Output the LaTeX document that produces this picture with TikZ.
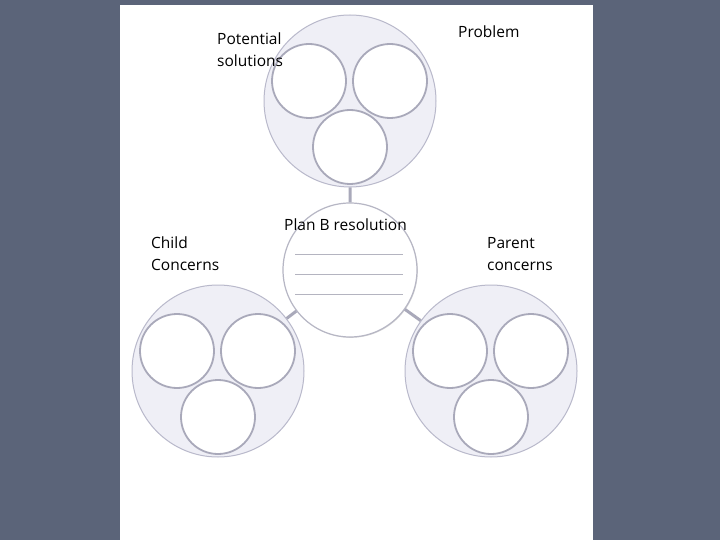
\documentclass[tikz,border=0pt]{standalone}
\usepackage{fontspec}
\setmainfont{Open Sans}
\usetikzlibrary{positioning,calc,shadows}

\definecolor{slate}{HTML}{5B6479}
\definecolor{rimgrey}{HTML}{B9B9CB}
\definecolor{padfill}{HTML}{EFEFF6}
\definecolor{ringgrey}{HTML}{A9A9BA}
\definecolor{rulegrey}{HTML}{B4B4C0}

\tikzset{
  cluster/.style={circle,draw=rimgrey,fill=padfill,line width=1pt,minimum size=172pt,inner sep=0pt},
  bubble/.style={circle,draw=ringgrey,fill=white,line width=1.8pt,minimum size=74pt,inner sep=0pt},
  hub/.style={circle,draw=ringgrey!85,fill=white,line width=1.2pt,minimum size=134pt,inner sep=0pt,
    drop shadow={shadow xshift=0.8pt,shadow yshift=-0.8pt,opacity=0.3,fill=black!50}},
  link/.style={draw=ringgrey,line width=3pt},
  caption/.style={anchor=base west,inner sep=0pt,align=left,font=\fontsize{15.5}{22}\selectfont},
}

\begin{document}
\begin{tikzpicture}[x=1pt,y=-1pt]
  \useasboundingbox (0,0) rectangle (720,540);
  \fill[slate] (0,0) rectangle (720,540);
  \fill[white] (120,5) rectangle (593,540);

  % hub and the three clusters
  \node[hub] (hub) at (350,270) {};
  \node[cluster] (problem) at (350,101) {};
  \node[cluster] (child) at (218,371) {};
  \node[cluster] (parent) at (491,371) {};

  \path[link]
    (problem) -- (hub)
    (child) -- (hub)
    (parent) -- (hub);

  \foreach \c in {problem,child,parent} {
    \node[bubble] (\c-l) at ($(\c)+(-41,-20)$) {};
    \node[bubble] (\c-r) at ($(\c)+(40,-20)$) {};
    \node[bubble] (\c-b) at ($(\c)+(0,46)$) {};
  }

  % writing lines
  \foreach \dy in {-16,4,24}
    \draw[rulegrey,line width=1pt] ($(hub)+(-55,\dy)$) -- +(108,0);

  \node[caption] (sol-label) at (217,67) {Potential\\solutions};
  \node[caption] (prob-label) at (458,38) {Problem};
  \node[caption] (child-label) at (151,270) {Child\\Concerns};
  \node[caption] (parent-label) at (487,270) {Parent\\concerns};
  \node[caption] (hub-label) at (284,230) {Plan B resolution};
\end{tikzpicture}
\end{document}
